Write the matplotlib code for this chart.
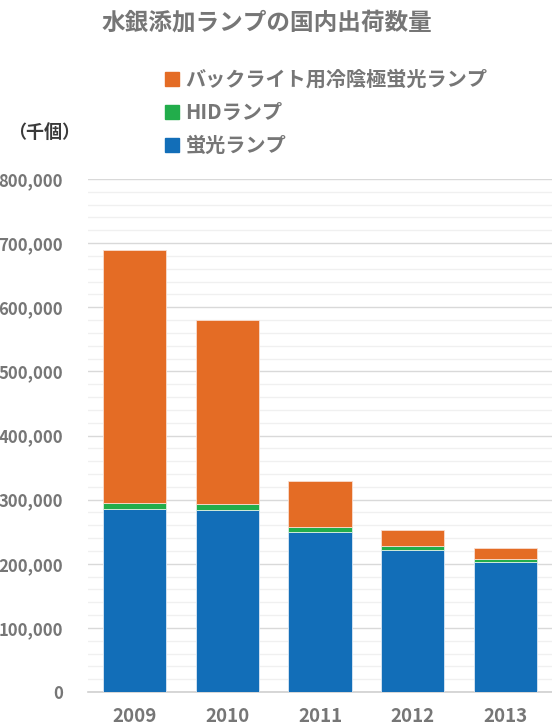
import matplotlib
matplotlib.use("Agg")
import matplotlib.pyplot as plt
from matplotlib.patches import Patch
from matplotlib.ticker import MultipleLocator, FuncFormatter

plt.rcParams['font.family'] = ['Noto Sans CJK JP', 'DejaVu Sans']

years = ["2009", "2010", "2011", "2012", "2013"]
fluorescent = [285000, 284000, 250000, 222000, 202000]
hid = [9000, 9000, 8000, 6000, 5000]
ccfl = [395000, 287000, 71000, 25000, 17000]

series_names = ["バックライト用冷陰極蛍光ランプ", "HIDランプ", "蛍光ランプ"]
title = "水銀添加ランプの国内出荷数量"
unit = "（千個）"

c_blue = "#126EB8"
c_green = "#22AD4B"
c_orange = "#E46C25"
txt = "#767676"

fig = plt.figure(figsize=(5.52, 7.27), dpi=100)
ax = fig.add_axes([88/552, 35/727, 464/552, 513/727])

x = list(range(len(years)))
w = 0.68
ax.bar(x, fluorescent, w, color=c_blue, edgecolor="#dce8f4", linewidth=0.6, zorder=3)
b2 = [a for a in fluorescent]
ax.bar(x, hid, w, bottom=b2, color=c_green, edgecolor="#dcf0e2", linewidth=0.6, zorder=3)
b3 = [a + b for a, b in zip(fluorescent, hid)]
ax.bar(x, ccfl, w, bottom=b3, color=c_orange, edgecolor="#f8ddd0", linewidth=0.6, zorder=3)

ax.set_xlim(-0.5, 4.5)
ax.set_ylim(0, 800000)
ax.yaxis.set_major_locator(MultipleLocator(100000))
ax.yaxis.set_minor_locator(MultipleLocator(20000))
ax.yaxis.set_major_formatter(FuncFormatter(lambda v, p: f"{int(v):,}"))
ax.grid(axis='y', which='major', color='#d9d9d9', linewidth=1.0, zorder=0)
ax.grid(axis='y', which='minor', color='#f0f0f0', linewidth=1.0, zorder=0)
for s in ['top', 'right', 'left']:
    ax.spines[s].set_visible(False)
ax.spines['bottom'].set_color('#d0d0d0')
ax.spines['bottom'].set_linewidth(1.2)
ax.tick_params(axis='y', which='both', length=0, pad=18, labelsize=12, labelcolor=txt)
ax.tick_params(axis='x', length=0, pad=11, labelsize=13.5, labelcolor=txt)
ax.set_xticks(x)
ax.set_xticklabels(years, fontweight='bold')
for lab in ax.get_yticklabels():
    lab.set_fontweight('bold')

fig.text(267/552, 1 - 22/727, title, ha='center', va='center', fontsize=17,
         fontweight='bold', color=txt)
fig.text(8/552, 1 - 132/727, unit, ha='left', va='center', fontsize=13,
         fontweight='bold', color='#3a3a3a')

handles = [Patch(color=c_orange), Patch(color=c_green), Patch(color=c_blue)]
leg = fig.legend(handles, series_names, loc='upper left',
                 bbox_to_anchor=(147/552, 1 - 51/727), frameon=False,
                 handlelength=0.7, handleheight=0.7, handletextpad=0.3,
                 labelspacing=0.6, prop={'size': 14.5, 'weight': 'bold'})
for t in leg.get_texts():
    t.set_color(txt)

fig.savefig("out.png", dpi=100)
